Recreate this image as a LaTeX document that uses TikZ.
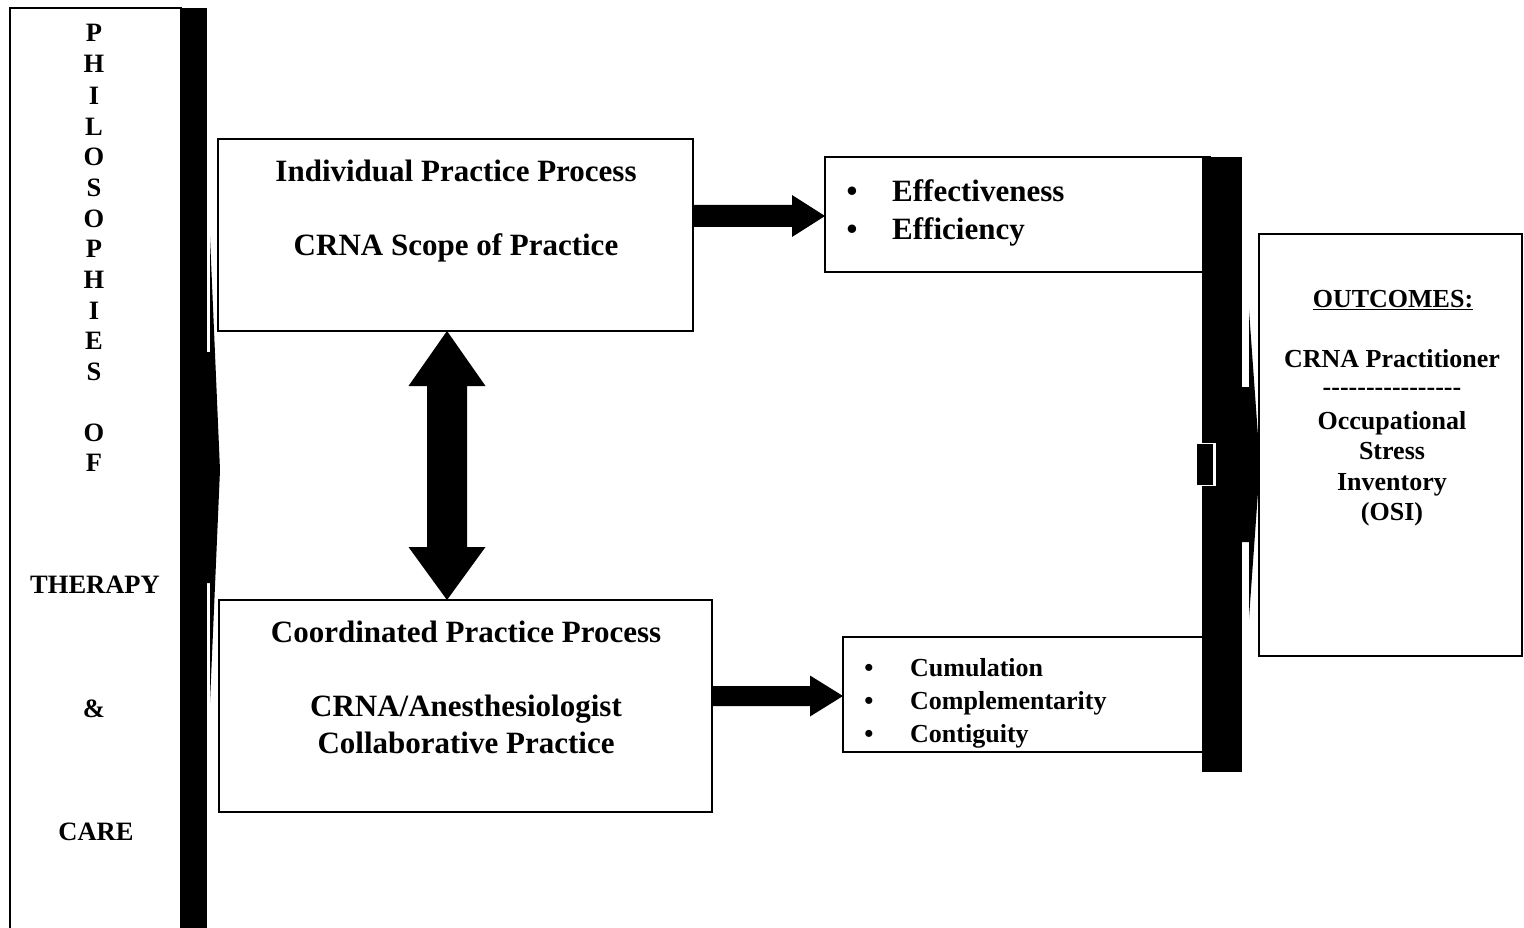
\documentclass[tikz,border=0pt]{standalone}
\usepackage{fontspec}
\setmainfont{Liberation Serif}
\usetikzlibrary{calc}
\newcommand\hy{\mbox{-}}
\begin{document}
\begin{tikzpicture}[x=1pt,y=-1pt,
  box/.style={draw=black, line width=1.4pt, fill=white, inner sep=0pt, outer sep=0pt},
  blk/.style={fill=black, draw=none, inner sep=0pt, outer sep=0pt},
  tbig/.style={font=\bfseries\fontsize{31}{37}\selectfont, inner sep=0pt, anchor=base},
  tmid/.style={font=\bfseries\fontsize{26}{31}\selectfont, inner sep=0pt, anchor=base},
  tlet/.style={font=\bfseries\fontsize{26.5}{31}\selectfont, inner sep=0pt},
  arr/.style={fill=black, draw=none}]
\useasboundingbox (0,0) rectangle (1524,928);

% ---------- boxes ----------
\node[box, minimum width=171pt, minimum height=940pt] (phil) at (95.5,478) {};
\node[box, minimum width=475pt, minimum height=192pt] (ipp) at (455.5,235) {};
\node[box, minimum width=385pt, minimum height=115pt] (eff) at (1017.5,214.5) {};
\node[box, minimum width=493pt, minimum height=212pt] (cpp) at (465.5,706) {};
\node[box, minimum width=367pt, minimum height=115pt] (cum) at (1026.5,694.5) {};
\node[box, minimum width=263pt, minimum height=422pt] (out) at (1390.5,445) {};

% ---------- bars ----------
\node[blk, minimum width=27pt, minimum height=930pt] (lbar) at (193.5,473) {};
\node[blk, minimum width=40pt, minimum height=615pt] (rbar) at (1222,464.5) {};

% left bar arrow head
\fill ($(lbar.north east)+(0,344)$) -- ($(lbar.north east)+(3,344)$) -- ($(lbar.north east)+(3,229)$)
  -- ($(lbar.north east)+(13,462)$) -- ($(lbar.north east)+(3,694)$) -- ($(lbar.north east)+(3,575)$)
  -- ($(lbar.north east)+(0,575)$) -- cycle;

% right bar arrow head
\fill ($(rbar.north east)+(0,230)$) -- ($(rbar.north east)+(7,230)$) -- ($(rbar.north east)+(7,153)$)
  -- ($(rbar.north east)+(18,307)$) -- ($(rbar.north east)+(7,461)$) -- ($(rbar.north east)+(7,385)$)
  -- ($(rbar.north east)+(0,385)$) -- cycle;

% small mark on right bar
\fill[white] ($(rbar.north west)+(-5,286)$) rectangle ($(rbar.north west)+(14,329)$);
\fill ($(rbar.north west)+(-5,287)$) rectangle ($(rbar.north west)+(11,328)$);

% ---------- block arrows ----------
\coordinate (a1s) at ([yshift=19pt]ipp.east);
\coordinate (a1e) at (a1s -| eff.west);
\fill[arr] ($(a1s)+(0,-11)$) -- ($(a1e)+(-33,-11)$) -- ($(a1e)+(-33,-21)$) -- (a1e)
  -- ($(a1e)+(-33,21)$) -- ($(a1e)+(-33,11)$) -- ($(a1s)+(0,11)$) -- cycle;

\coordinate (a2s) at ([yshift=10pt]cpp.east);
\coordinate (a2e) at (a2s -| cum.west);
\fill[arr] ($(a2s)+(0,-10)$) -- ($(a2e)+(-33,-10)$) -- ($(a2e)+(-33,-20.5)$) -- (a2e)
  -- ($(a2e)+(-33,20.5)$) -- ($(a2e)+(-33,10)$) -- ($(a2s)+(0,10)$) -- cycle;

\coordinate (d1) at ([xshift=-8.5pt]ipp.south);
\coordinate (d2) at (d1 |- cpp.north);
\fill[arr] (d1) -- ($(d1)+(38.5,55)$) -- ($(d1)+(20,55)$) -- ($(d2)+(20,-53)$) -- ($(d2)+(38.5,-53)$)
  -- (d2) -- ($(d2)+(-38.5,-53)$) -- ($(d2)+(-20,-53)$) -- ($(d1)+(-20,55)$) -- ($(d1)+(-38.5,55)$) -- cycle;

% ---------- left column text ----------
\foreach \c/\yy [count=\i] in {P/33,H/64,I/96,L/127,O/157,S/188,O/219,P/249,H/280,I/311,E/341,S/372,O/433,F/463}
  \node[tlet] (ph\i) at (94,\yy) {\c};
\node[tlet] (ther) at (95,585) {THERAPY};
\node[tlet] (amp) at (94,709) {\&};
\node[tlet] (care) at (96,832) {CARE};

% ---------- box texts ----------
\node[tbig] (ipp1) at (456,182) {Individual Practice Process};
\node[tbig] (ipp2) at (456,255) {CRNA Scope of Practice};

\node[tbig] (b1) at (852,202) {\textbullet};
\node[tbig, anchor=base west] (e1) at (892,202) {Effectiveness};
\node[tbig] (b2) at (852,240) {\textbullet};
\node[tbig, anchor=base west] (e2) at (892,240) {Efficiency};

\node[tbig] (cpp1) at (466,642) {Coordinated Practice Process};
\node[tbig] (cpp2) at (466,716) {CRNA/Anesthesiologist};
\node[tbig] (cpp3) at (466,753) {Collaborative Practice};

\node[tmid] (c1b) at (869,676) {\textbullet};
\node[tmid, anchor=base west] (c1) at (910,676) {Cumulation};
\node[tmid] (c2b) at (869,709) {\textbullet};
\node[tmid, anchor=base west] (c2) at (910,709) {Complementarity};
\node[tmid] (c3b) at (869,742) {\textbullet};
\node[tmid, anchor=base west] (c3) at (910,742) {Contiguity};

\node[tmid] (o1) at (1393,307) {\underline{OUTCOMES:}};
\node[tmid] (o2) at (1392,367) {CRNA Practitioner};
\node[tmid] (o3) at (1392,395) {\hy\hy\hy\hy\hy\hy\hy\hy\hy\hy\hy\hy\hy\hy\hy\hy};
\node[tmid] (o4) at (1392,429) {Occupational};
\node[tmid] (o5) at (1392,459) {Stress};
\node[tmid] (o6) at (1392,490) {Inventory};
\node[tmid] (o7) at (1392,520) {(OSI)};
\end{tikzpicture}
\end{document}
